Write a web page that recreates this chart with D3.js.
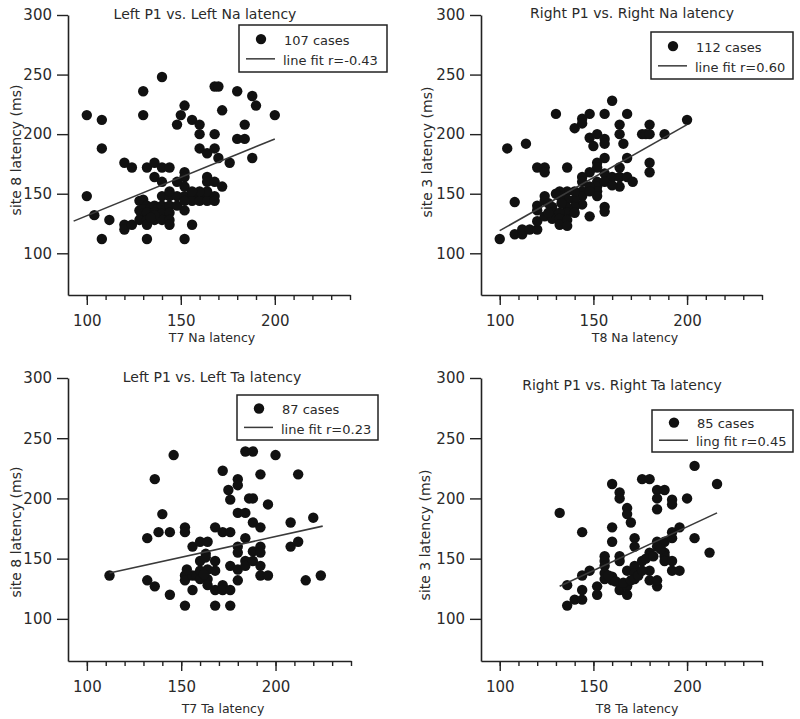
<!DOCTYPE html>
<html><head><meta charset="utf-8">
<script src="https://cdn.jsdelivr.net/npm/d3@7"></script>
<style>
body{margin:0;background:#fff}
svg{display:block}
text{font-family:"DejaVu Sans",sans-serif;fill:#2a2a2a}
</style>
</head><body>
<svg id="chart" width="800" height="719"></svg>
<script>
// ---------- data ----------
const titles = ["Left P1 vs. Left Na latency","Right P1 vs. Right Na latency","Left P1 vs. Left Ta latency","Right P1 vs. Right Ta latency"];
const xLabels = ["T7 Na latency","T8 Na latency","T7 Ta latency","T8 Ta latency"];
const yLabels = ["site 8 latency (ms)","site 3 latency (ms)","site 8 latency (ms)","site 3 latency (ms)"];
const caseLabels = ["107 cases","112 cases","87 cases","85 cases"];
const fitLabels = ["line fit r=-0.43","line fit r=0.60","line fit r=0.23","ling fit r=0.45"];
const xTickLabels = [100,150,200];
const xMinorTicks = [100,110,120,130,140,150,160,170,180,190,200,210,220,230,240];
const yTickLabels = [100,150,200,250,300];
const xDomain = [90,240];
const yDomain = [65,300];

const leftNaPoints = [
 [100,216],[100,148],[104,132],[108,212],[108,188],[108,112],[112,128],
 [120,176],[120,124],[120,120],[124,124],[124,172],
 [130,236],[130,216],[132,172],[132,112],
 [136,176],[136,164],[140,248],[140,172],[144,172],[140,160],
 [150,216],[148,208],[152,224],[152,168],[152,164],[152,156],[152,136],[152,112],
 [156,212],[156,124],[160,208],[160,200],[160,188],[164,184],[164,164],[164,160],
 [168,240],[170,240],[168,200],[168,188],[168,160],[172,220],[170,180],[172,156],[176,176],
 [180,236],[180,196],[184,196],[184,208],[188,232],[190,224],[188,180],[200,216],
 [128,144],[130,145],[132,140],[128,136],[130,137],[134,138],[136,140],[138,138],[140,140],[142,137],[144,140],
 [129,133],[132,134],[136,134],[140,133],[144,134],
 [128,128],[132,128],[136,128],[140,128],[144,128],
 [132,124],[144,124],[140,148],[144,148],[148,148],[144,152],
 [152,148],[156,148],[160,148],[164,148],[168,148],[156,144],[160,144],[164,144],[168,144],
 [148,140],[152,144],[164,152],[160,152],[148,160],[156,152],[136,132],[134,130]
];
const rightNaPoints = [
 [100,112],[104,188],[108,143],[108,116],[112,116],[114,192],[112,120],[116,120],[120,120],
 [120,172],[124,172],[124,168],[120,140],[120,136],[120,127],[124,148],[124,144],[124,131],
 [130,217],[136,172],[140,205],[144,213],[144,209],[148,217],[148,197],[150,190],[152,200],
 [156,196],[156,192],[156,217],[160,228],[164,208],[164,200],[168,217],[166,192],[168,180],
 [176,200],[178,200],[180,200],[180,208],[180,176],[180,168],[188,200],[200,212],
 [156,180],[152,176],[152,172],[148,168],[144,164],[144,160],[156,167],[160,164],[164,172],
 [164,164],[168,164],[171,160],[164,156],[152,160],[152,156],[152,152],[152,148],[156,160],[160,157],
 [156,139],[156,135],[148,131],[144,152],[144,148],[144,141],[140,145],[140,139],[136,152],[136,145],
 [132,152],[132,148],[130,150],[136,138],[136,134],[128,139],[128,134],[128,129],[132,134],[132,129],[132,124],
 [136,128],[136,123],[126,142],[126,134],[140,134],[133,142],[140,152],[148,156],[148,152]
];
const leftTaPoints = [
 [112,136],[132,167],[132,132],[136,216],[136,127],[138,172],[140,187],[144,172],[144,120],[146,236],
 [152,176],[152,172],[152,136],[152,132],[152,111],[156,124],[156,160],[156,136],[158,136],
 [160,164],[164,164],[160,148],[160,140],[160,133],[163,154],[163,151],[164,141],[164,133],[164,128],
 [168,176],[168,148],[168,140],[168,124],[168,111],[172,223],[172,172],[176,172],[172,128],[172,124],
 [176,124],[176,111],[175,207],[176,199],[176,144],[180,216],[180,211],[180,188],[180,160],[180,155],
 [180,141],[180,132],[184,239],[188,239],[184,188],[184,167],[184,148],[184,144],[186,200],[188,200],
 [188,180],[188,156],[188,148],[192,220],[192,176],[192,160],[192,155],[192,144],[192,136],[196,195],
 [196,136],[200,236],[208,180],[208,160],[212,220],[212,164],[216,132],[220,184],[224,136],[153,141],[162,137]
];
const rightTaPoints = [
 [132,188],[136,111],[136,128],[140,116],[144,116],[144,136],[144,124],[144,172],[148,140],
 [152,127],[152,120],[156,152],[156,148],[156,144],[156,138],[156,133],[160,212],[160,176],[160,164],
 [160,135],[160,132],[164,205],[164,200],[164,152],[164,148],[164,124],[168,192],[168,187],[168,140],
 [168,127],[168,120],[170,180],[172,167],[172,160],[172,144],[172,138],[172,133],[176,216],[180,216],
 [176,148],[180,155],[180,140],[180,132],[184,207],[188,207],[184,200],[184,191],[184,164],[184,160],
 [184,127],[184,132],[188,164],[188,155],[188,152],[188,148],[192,199],[192,195],[192,172],[192,167],
 [192,148],[192,140],[196,176],[196,140],[200,200],[204,227],[204,167],[212,155],[216,212],
 [158,136],[162,131],[166,130],[170,132],[174,136],[178,150],[182,152],[186,158],[176,140]
];
// fitted line end points [x0,x1], [y0,y1]
const leftNaFitX = [93,200],  leftNaFitY = [127,196];
const rightNaFitX = [100,200], rightNaFitY = [119,208];
const leftTaFitX = [112,225], leftTaFitY = [138,177];
const rightTaFitX = [132,216], rightTaFitY = [127,188];

// ---------- layout ----------
const layouts = [
 {l:68, r:350, t:15, b:295, title:[205,19], xlab:[212,342], ylab:[21,150], legend:[239,25,148,47]},
 {l:481,r:762, t:15, b:295, title:[632,18], xlab:[635,342], ylab:[432,152], legend:[651,32,142,47]},
 {l:68, r:351, t:378,b:661, title:[212,382],xlab:[223,713], ylab:[21,532], legend:[237,395,141,45]},
 {l:481,r:762, t:378,b:661, title:[622,390],xlab:[637,713], ylab:[430,535], legend:[652,410,141,42]}
];
const pointSets = [leftNaPoints,rightNaPoints,leftTaPoints,rightTaPoints];
const fitXs = [leftNaFitX,rightNaFitX,leftTaFitX,rightTaFitX];
const fitYs = [leftNaFitY,rightNaFitY,leftTaFitY,rightTaFitY];

const svg = d3.select("#chart");
const dotR = 5.2;

layouts.forEach((L,i)=>{
  const x = d3.scaleLinear().domain(xDomain).range([L.l,L.r]);
  const y = d3.scaleLinear().domain(yDomain).range([L.b,L.t]);
  const g = svg.append("g");

  // x minor ticks
  g.append("g").attr("transform",`translate(0,${L.b})`)
   .call(d3.axisBottom(x).tickValues(xMinorTicks).tickSize(5).tickSizeOuter(0).tickFormat(""))
   .call(a=>{a.select(".domain").attr("stroke","#222").attr("stroke-width",1.6);
             a.selectAll(".tick line").attr("stroke","#222").attr("stroke-width",1.4);});
  // x major ticks
  g.append("g").attr("transform",`translate(0,${L.b})`)
   .call(d3.axisBottom(x).tickValues(xTickLabels).tickSize(10).tickSizeOuter(0).tickPadding(10))
   .call(a=>{a.select(".domain").remove();
             a.selectAll(".tick line").attr("stroke","#222").attr("stroke-width",1.4);
             a.selectAll(".tick text").attr("font-size",15).attr("font-family","DejaVu Sans").attr("fill","#2a2a2a");});
  // y axis
  g.append("g").attr("transform",`translate(${L.l},0)`)
   .call(d3.axisLeft(y).tickValues(yTickLabels).tickSize(11).tickSizeOuter(0).tickPadding(5))
   .call(a=>{a.select(".domain").attr("stroke","#222").attr("stroke-width",1.6);
             a.selectAll(".tick line").attr("stroke","#222").attr("stroke-width",1.4);
             a.selectAll(".tick text").attr("font-size",15).attr("font-family","DejaVu Sans").attr("fill","#2a2a2a");});

  // title
  g.append("text").attr("x",L.title[0]).attr("y",L.title[1]).attr("text-anchor","middle")
   .attr("font-size",14).text(titles[i]);
  // x label
  g.append("text").attr("x",L.xlab[0]).attr("y",L.xlab[1]).attr("text-anchor","middle")
   .attr("font-size",12.5).text(xLabels[i]);
  // y label
  g.append("text").attr("transform",`translate(${L.ylab[0]},${L.ylab[1]}) rotate(-90)`)
   .attr("text-anchor","middle").attr("font-size",14).text(yLabels[i]);

  // points
  g.append("g").selectAll("circle").data(pointSets[i]).join("circle")
   .attr("cx",d=>x(d[0])).attr("cy",d=>y(d[1])).attr("r",dotR).attr("fill","#111");

  // fit line
  g.append("line")
   .attr("x1",x(fitXs[i][0])).attr("y1",y(fitYs[i][0]))
   .attr("x2",x(fitXs[i][1])).attr("y2",y(fitYs[i][1]))
   .attr("stroke","#3a3a3a").attr("stroke-width",1.6);

  // legend
  const [lx,ly,lw,lh] = L.legend;
  const lg = g.append("g");
  lg.append("rect").attr("x",lx).attr("y",ly).attr("width",lw).attr("height",lh)
    .attr("fill","#fff").attr("stroke","#222").attr("stroke-width",1.5);
  lg.append("circle").attr("cx",lx+22).attr("cy",ly+lh*0.3).attr("r",dotR).attr("fill","#111");
  lg.append("text").attr("x",lx+45).attr("y",ly+lh*0.43).attr("font-size",13).text(caseLabels[i]);
  lg.append("line").attr("x1",lx+7).attr("x2",lx+36).attr("y1",ly+lh*0.72).attr("y2",ly+lh*0.72)
    .attr("stroke","#3a3a3a").attr("stroke-width",1.5);
  lg.append("text").attr("x",lx+44).attr("y",ly+lh*0.86).attr("font-size",13).text(fitLabels[i]);
});
</script>
</body></html>
